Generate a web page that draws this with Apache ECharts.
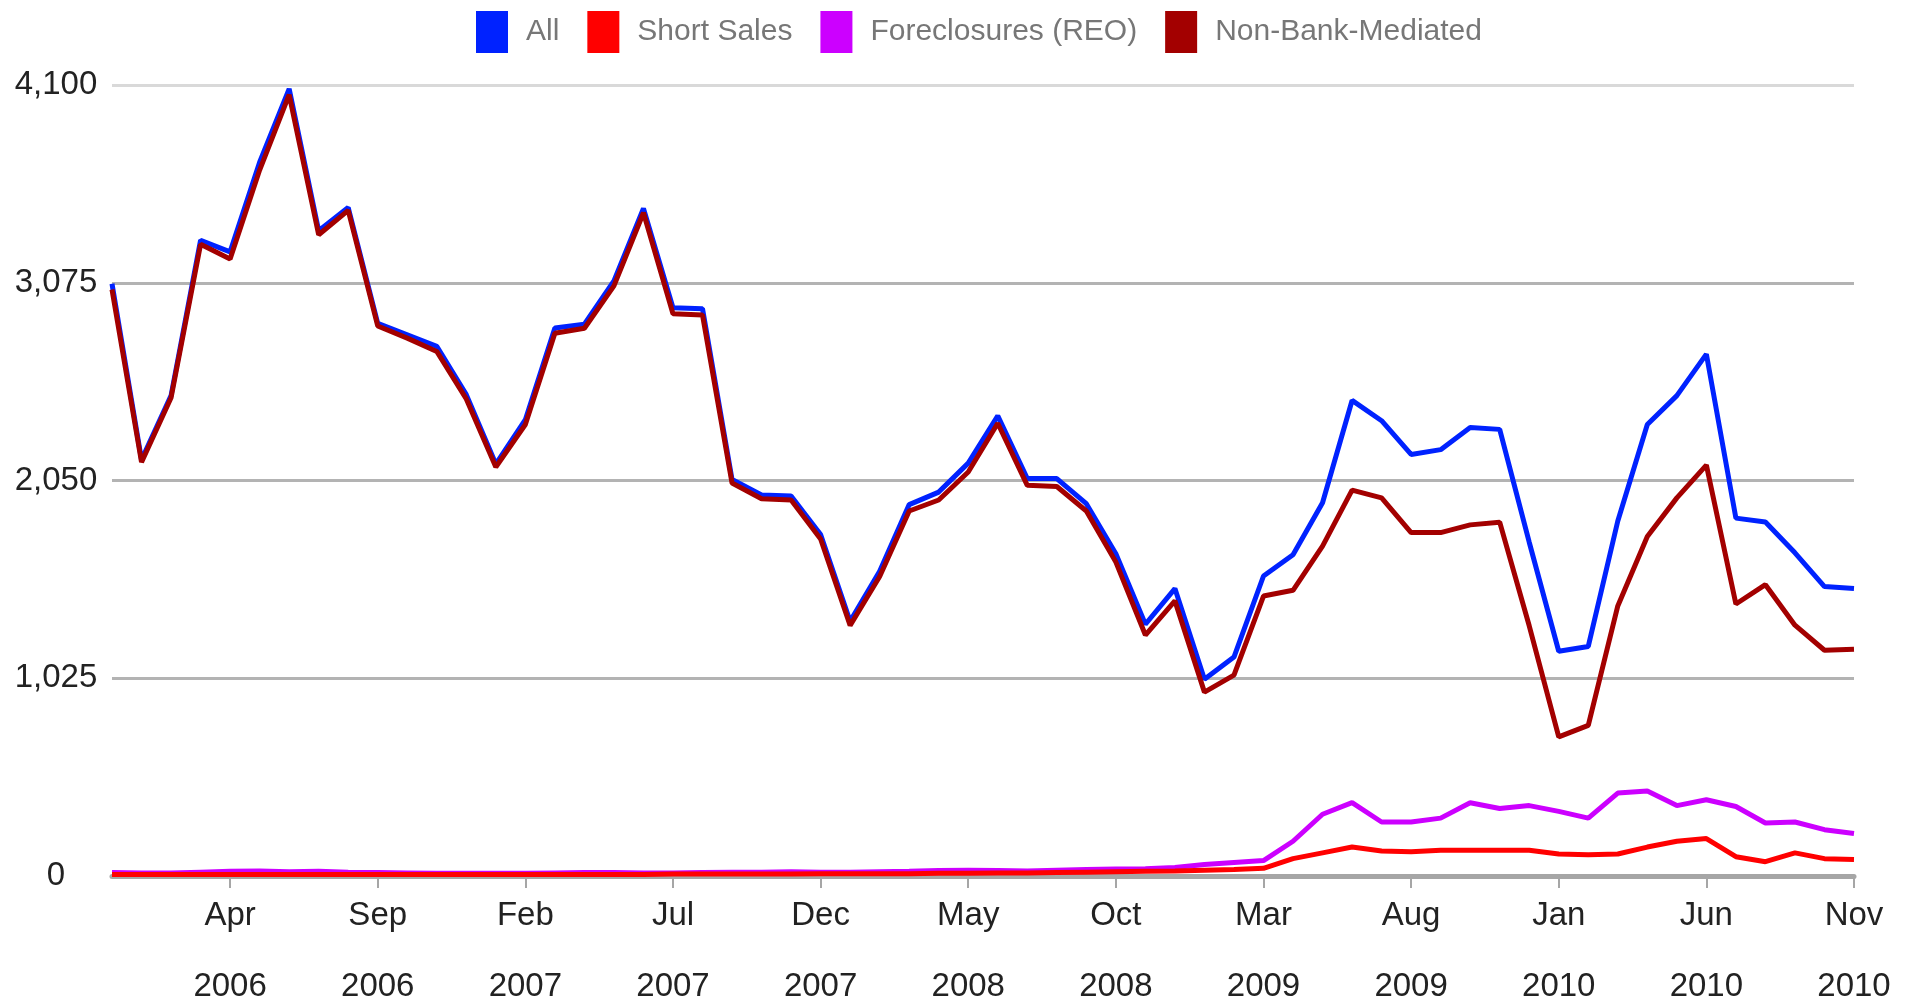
<!DOCTYPE html>
<html>
<head>
<meta charset="utf-8">
<title>Sales</title>
<script src="https://cdn.jsdelivr.net/npm/echarts@6/dist/echarts.min.js"></script>
<style>
html, body { margin: 0; padding: 0; background: #fff; }
#chart { width: 1910px; height: 1006px; }
</style>
</head>
<body>
<div id="chart"></div>
<script>
var FONT = "'Liberation Sans', Arial, sans-serif";

var months = [
	'Dec\n2005',
	'Jan\n2006', 'Feb\n2006', 'Mar\n2006', 'Apr\n2006', 'May\n2006', 'Jun\n2006',
	'Jul\n2006', 'Aug\n2006', 'Sep\n2006', 'Oct\n2006', 'Nov\n2006', 'Dec\n2006',
	'Jan\n2007', 'Feb\n2007', 'Mar\n2007', 'Apr\n2007', 'May\n2007', 'Jun\n2007',
	'Jul\n2007', 'Aug\n2007', 'Sep\n2007', 'Oct\n2007', 'Nov\n2007', 'Dec\n2007',
	'Jan\n2008', 'Feb\n2008', 'Mar\n2008', 'Apr\n2008', 'May\n2008', 'Jun\n2008',
	'Jul\n2008', 'Aug\n2008', 'Sep\n2008', 'Oct\n2008', 'Nov\n2008', 'Dec\n2008',
	'Jan\n2009', 'Feb\n2009', 'Mar\n2009', 'Apr\n2009', 'May\n2009', 'Jun\n2009',
	'Jul\n2009', 'Aug\n2009', 'Sep\n2009', 'Oct\n2009', 'Nov\n2009', 'Dec\n2009',
	'Jan\n2010', 'Feb\n2010', 'Mar\n2010', 'Apr\n2010', 'May\n2010', 'Jun\n2010',
	'Jul\n2010', 'Aug\n2010', 'Sep\n2010', 'Oct\n2010', 'Nov\n2010'
];

var yTicks = [0, 1025, 2050, 3075, 4100];

var allSales = [
	3070, 2157, 2490, 3295, 3235, 3700, 4080, 3345, 3465, 2865,
	2805, 2745, 2495, 2135, 2365, 2840, 2860, 3085, 3460, 2945,
	2940, 2055, 1975, 1970, 1770, 1320, 1580, 1925, 1990, 2140,
	2385, 2060, 2060, 1930, 1670, 1305, 1490, 1020, 1135, 1555,
	1665, 1935, 2465, 2360, 2185, 2210, 2325, 2315, 1730, 1165,
	1190, 1840, 2340, 2490, 2705, 1855, 1835, 1675, 1500, 1490
];

var shortSales = [
	8, 8, 8, 8, 8, 8, 8, 8, 8, 8,
	8, 8, 8, 8, 8, 8, 8, 8, 8, 10,
	10, 10, 10, 10, 12, 12, 12, 12, 14, 14,
	16, 16, 18, 20, 22, 24, 26, 30, 34, 40,
	90, 120, 150, 130, 126, 134, 134, 134, 134, 114,
	110, 114, 150, 180, 194, 100, 74, 120, 90, 86
];

var foreclosures = [
	18, 16, 16, 20, 24, 26, 22, 24, 20, 18,
	16, 14, 14, 14, 14, 16, 18, 18, 16, 16,
	18, 20, 20, 22, 20, 20, 22, 24, 28, 30,
	28, 26, 30, 34, 36, 38, 44, 60, 70, 80,
	180, 320, 380, 280, 280, 300, 380, 350, 365, 335,
	300, 430, 440, 365, 395, 360, 275, 280, 240, 220
];

var nonBank = [
	3040, 2145, 2479, 3274, 3198, 3659, 4050, 3324, 3450, 2851,
	2788, 2719, 2473, 2120, 2340, 2813, 2839, 3059, 3438, 2914,
	2908, 2037, 1955, 1949, 1747, 1299, 1552, 1892, 1949, 2094,
	2347, 2025, 2019, 1892, 1627, 1249, 1426, 953, 1041, 1451,
	1481, 1710, 2000, 1960, 1780, 1780, 1820, 1834, 1297, 721,
	781, 1400, 1760, 1960, 2130, 1410, 1510, 1300, 1170, 1175
];

var showTick = function(i){
	return i >= 4 && (i - 4) % 5 === 0;
};

var line = function(name, data, color, z){
	return {
		name: name,
		type: 'line',
		data: data,
		z: z,
		symbol: 'none',
		smooth: false,
		lineStyle: { color: color, width: 5 },
		itemStyle: { color: color },
		emphasis: { disabled: true }
	};
};

var myChart = echarts.init(document.getElementById('chart'));
myChart.setOption({
	animation: false,
	backgroundColor: '#fff',
	textStyle: { fontFamily: FONT },
	legend: {
		left: 471,
		top: 6,
		icon: 'rect',
		itemWidth: 32,
		itemHeight: 42,
		itemGap: 28,
		data: ['All', 'Short Sales', 'Foreclosures (REO)', 'Non-Bank-Mediated'],
		textStyle: { fontFamily: FONT, fontSize: 30, color: '#777', padding: [0, 0, 0, 13] }
	},
	grid: { left: 112, right: 56, top: 85, bottom: 130, outerBoundsMode: 'none', containLabel: false },
	xAxis: {
		type: 'category',
		data: months,
		boundaryGap: false,
		axisLine: { lineStyle: { color: '#a6a6a6', width: 5 } },
		axisTick: {
			show: true,
			interval: showTick,
			length: 12,
			lineStyle: { color: '#a6a6a6', width: 2 }
		},
		axisLabel: {
			interval: showTick,
			margin: 4,
			fontFamily: FONT,
			fontSize: 33,
			lineHeight: 71,
			color: '#222'
		}
	},
	yAxis: {
		type: 'value',
		min: 0,
		max: 4100,
		interval: 1025,
		axisLine: { show: false },
		axisTick: { show: false },
		axisLabel: {
			margin: 56,
			align: 'center',
			fontFamily: FONT,
			fontSize: 33,
			color: '#222',
			formatter: function(v){ return v.toLocaleString('en-US'); }
		},
		splitLine: {
			lineStyle: {
				color: ['#b3b3b3', '#b3b3b3', '#b3b3b3', '#b3b3b3', '#d9d9d9'],
				width: 3
			}
		}
	},
	series: [
		line('All', allSales, '#0022ff', 2),
		line('Short Sales', shortSales, '#ff0000', 4),
		line('Foreclosures (REO)', foreclosures, '#cc00ff', 3),
		line('Non-Bank-Mediated', nonBank, '#a30000', 5)
	]
});
</script>
</body>
</html>
